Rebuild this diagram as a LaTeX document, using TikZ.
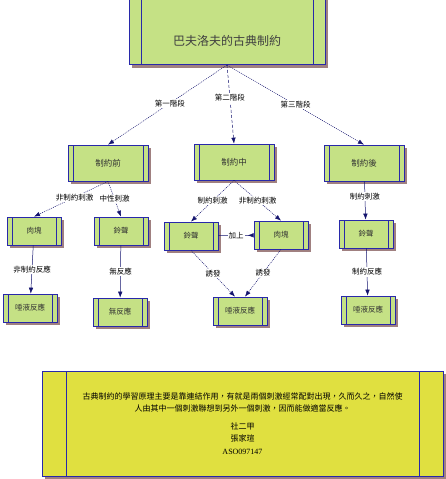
\documentclass[tikz,border=0pt]{standalone}
\usepackage{fontspec}
\setmainfont{Liberation Serif}
\newfontfamily\cjk{Noto Sans CJK TC}
\usetikzlibrary{shadows,arrows.meta}
\definecolor{leaf}{RGB}{197,225,133}
\definecolor{rim}{RGB}{40,40,170}
\definecolor{umber}{RGB}{160,128,128}
\definecolor{note}{RGB}{224,224,64}
\definecolor{wire}{RGB}{20,20,110}
\tikzset{
  bar inset/.initial=5pt,
  box/.style={draw=rim,fill=leaf,line width=.7pt,inner sep=0pt,text=black!80,
    minimum width=54pt,minimum height=28pt,font=\cjk\fontsize{7.5}{9}\selectfont,
    drop shadow={fill=umber,opacity=1,shadow xshift=3pt,shadow yshift=-3pt},
    path picture={\draw[rim,line width=.7pt]
      ([xshift=\pgfkeysvalueof{/tikz/bar inset}]path picture bounding box.north west)--([xshift=\pgfkeysvalueof{/tikz/bar inset}]path picture bounding box.south west)
      ([xshift=-\pgfkeysvalueof{/tikz/bar inset}]path picture bounding box.north east)--([xshift=-\pgfkeysvalueof{/tikz/bar inset}]path picture bounding box.south east);}},
  stage/.style={box,minimum width=80pt,minimum height=36pt,font=\cjk\fontsize{8.5}{10}\selectfont},
  tag/.style={fill=white,inner sep=1pt,text=black,font=\cjk\fontsize{7.5}{9}\selectfont},
  link/.style={draw=wire,line width=.5pt,->},
  slant/.style={link,dash pattern=on 1pt off 1pt}
}
\begin{document}
\begin{tikzpicture}[x=1pt,y=-1pt,>={Latex[length=6pt,width=4.5pt]}]
\useasboundingbox (0,0) rectangle (446,479);
\clip (0,0) rectangle (446,479);

\node[box,bar inset=12pt,anchor=south,minimum width=196pt,inner ysep=17pt,text height=39pt,text depth=2pt,
  font=\cjk\fontsize{12}{14}\selectfont,text=black!75] (title) at (227,65) {巴夫洛夫的古典制約};

\node[stage] (pre) at (108,163) {制約前};
\node[stage] (mid) at (234,162) {制約中};
\node[stage] (post) at (364,163) {制約後};

\node[box] (meat1) at (34,231) {肉塊};
\node[box] (bell1) at (121,231) {鈴聲};
\node[box] (saliva1) at (30,308) {唾液反應};
\node[box] (none) at (120,312) {無反應};

\node[box] (bell2) at (191,236) {鈴聲};
\node[box] (meat2) at (281,235) {肉塊};
\node[box] (saliva2) at (240,311) {唾液反應};

\node[box] (bell3) at (366,234) {鈴聲};
\node[box] (saliva3) at (368,310) {唾液反應};

\draw[slant] (title.south) -- node[tag,pos=.48]{第一階段} (pre.north);
\draw[link,dash pattern=on 3pt off 2pt] (title.south) -- node[tag,pos=.42]{第二階段} (mid.north);
\draw[slant] (title.south) -- node[tag,pos=.5]{第三階段} (post.north);

\draw[slant] (pre.south) -- node[tag,pos=.45]{非制約刺激} (meat1.north);
\draw[slant] (pre.south) -- node[tag]{中性刺激} (bell1.north);
\draw[link] (meat1) -- node[tag]{非制約反應} (saliva1);
\draw[link] (bell1) -- node[tag]{無反應} (none);

\draw[slant] (mid.south) -- node[tag]{制約刺激} (bell2.north);
\draw[slant] (mid.south) -- node[tag]{非制約刺激} (meat2.north);
\draw[draw=wire,line width=.5pt,-{Latex[length=6pt,width=4.5pt,reversed]}] (bell2) -- node[tag]{加上} (meat2);
\draw[slant] (bell2.south) -- node[tag]{誘發} ([xshift=-5pt]saliva2.north);
\draw[slant] (meat2.south) -- node[tag]{誘發} ([xshift=5pt]saliva2.north);

\draw[link] (post) -- node[tag,pos=.4]{制約刺激} (bell3);
\draw[link] (bell3) -- node[tag]{制約反應} (saliva3);

\node[box,fill=note,bar inset=24pt,minimum width=401pt,minimum height=105pt,align=center,text=black,
  font=\cjk\fontsize{8}{12.5}\selectfont] (summary) at (242.5,423.5)
  {古典制約的學習原理主要是靠連結作用，有就是兩個刺激經常配對出現，久而久之，自然使\\
   人由其中一個刺激聯想到另外一個刺激，因而能做適當反應。\\[5pt]
   社二甲\\張家瑄\\{\rmfamily ASO097147}};
\end{tikzpicture}
\end{document}
